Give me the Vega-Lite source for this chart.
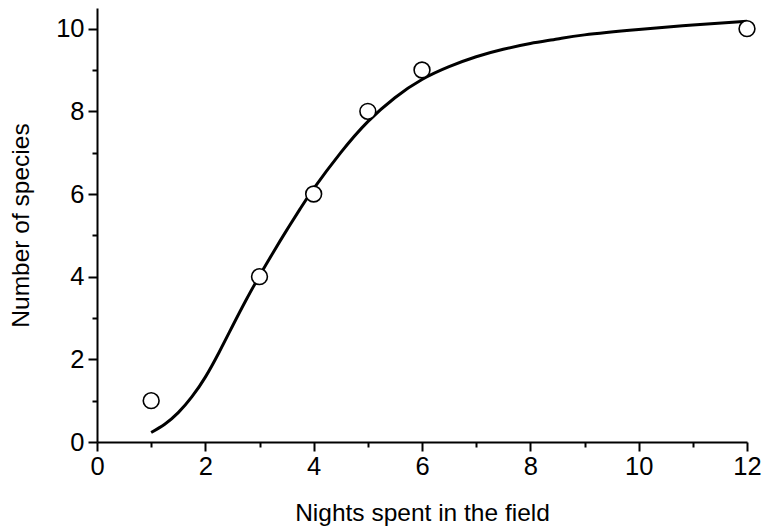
{
  "$schema": "https://vega.github.io/schema/vega-lite/v6.json",
  "width": 650,
  "height": 434,
  "autosize": "none",
  "padding": {"left": 97, "top": 8, "right": 18, "bottom": 87},
  "background": "white",
  "config": {
    "view": {"stroke": null},
    "font": "Liberation Sans",
    "axis": {
      "grid": false,
      "domainColor": "black",
      "domainWidth": 2,
      "tickColor": "black",
      "tickWidth": 2,
      "labelFont": "Liberation Sans",
      "labelFontSize": 25.5,
      "labelColor": "black",
      "titleFont": "Liberation Sans",
      "titleFontSize": 24.5,
      "titleFontWeight": "normal",
      "titleColor": "black"
    }
  },
  "datasets": {
    "obs": [
      {"nights": 1, "species": 1},
      {"nights": 3, "species": 4},
      {"nights": 4, "species": 6},
      {"nights": 5, "species": 8},
      {"nights": 6, "species": 9},
      {"nights": 12, "species": 10}
    ],
    "fit": [
      {"nights": 1, "species": 0.23},
      {"nights": 1.25, "species": 0.43},
      {"nights": 1.5, "species": 0.71},
      {"nights": 1.75, "species": 1.09},
      {"nights": 2, "species": 1.57},
      {"nights": 2.25, "species": 2.16},
      {"nights": 2.5, "species": 2.8},
      {"nights": 2.75, "species": 3.43},
      {"nights": 3, "species": 4.02},
      {"nights": 3.25, "species": 4.58},
      {"nights": 3.5, "species": 5.12},
      {"nights": 3.75, "species": 5.64},
      {"nights": 4, "species": 6.13},
      {"nights": 4.5, "species": 7.0},
      {"nights": 5, "species": 7.75},
      {"nights": 5.5, "species": 8.33},
      {"nights": 6, "species": 8.77},
      {"nights": 6.5, "species": 9.08},
      {"nights": 7, "species": 9.32},
      {"nights": 7.5, "species": 9.5},
      {"nights": 8, "species": 9.64},
      {"nights": 8.5, "species": 9.75},
      {"nights": 9, "species": 9.85},
      {"nights": 10, "species": 9.98},
      {"nights": 11, "species": 10.09},
      {"nights": 12, "species": 10.18}
    ]
  },
  "encoding": {
    "x": {
      "field": "nights",
      "type": "quantitative",
      "scale": {"domain": [0, 12], "nice": false, "zero": false},
      "axis": {
        "title": "Nights spent in the field",
        "values": [0, 1, 2, 3, 4, 5, 6, 7, 8, 9, 10, 11, 12],
        "labelExpr": "datum.value % 2 ? '' : datum.label",
        "tickSize": {"condition": {"test": "datum.value % 2", "value": 5}, "value": 9},
        "labelPadding": 3,
        "titlePadding": 22,
        "labelFlush": false,
        "labelOverlap": false
      }
    },
    "y": {
      "field": "species",
      "type": "quantitative",
      "scale": {"domain": [0, 10.5], "nice": false, "zero": false},
      "axis": {
        "title": "Number of species",
        "values": [0, 1, 2, 3, 4, 5, 6, 7, 8, 9, 10],
        "labelExpr": "datum.value % 2 ? '' : datum.label",
        "tickSize": {"condition": {"test": "datum.value % 2", "value": 5}, "value": 9},
        "labelPadding": 4,
        "titlePadding": 22,
        "labelFlush": false,
        "labelOverlap": false
      }
    }
  },
  "layer": [
    {
      "data": {"name": "fit"},
      "mark": {"type": "line", "color": "black", "strokeWidth": 3, "interpolate": "natural"}
    },
    {
      "data": {"name": "obs"},
      "mark": {"type": "point", "shape": "circle", "filled": false, "fill": "white", "fillOpacity": 1, "stroke": "black", "strokeWidth": 1.6, "size": 250, "opacity": 1}
    }
  ]
}
